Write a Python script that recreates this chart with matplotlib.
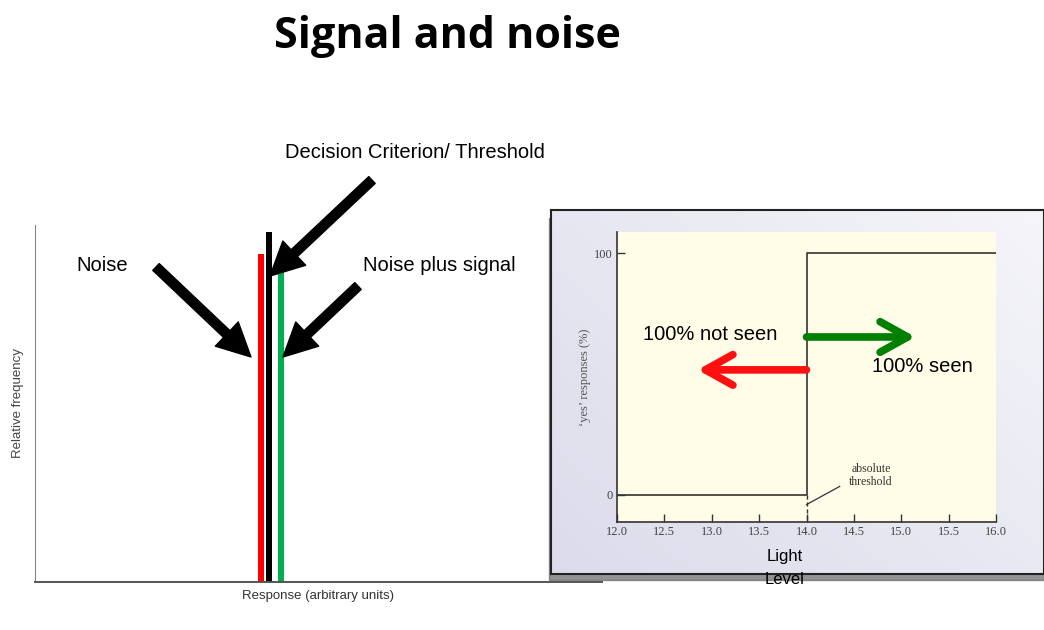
import numpy as np
import matplotlib
matplotlib.use('Agg')
from matplotlib import pyplot as plt
from matplotlib.patches import Rectangle

W, H = 1044, 630

# left panel: three response lines
resp_x = [39.8, 41.3, 43.4]
resp_h = [92, 98, 92]
resp_c = ['#ff0000', '#000000', '#00b050']

# right panel: step function of 'yes' responses
light = [12.0, 14.0, 14.0, 16.0]
yes_pct = [0, 0, 100, 100]
x_ticks = [12.0, 12.5, 13.0, 13.5, 14.0, 14.5, 15.0, 15.5, 16.0]
y_ticks = [0, 100]


def px(x, y):
    return x / W, 1 - y / H


def rect(x0, y0, x1, y1):
    return [x0 / W, 1 - y1 / H, (x1 - x0) / W, (y1 - y0) / H]


sans = 'Liberation Sans'
serif = 'Liberation Serif'

fig = plt.figure(figsize=(W / 100, H / 100), dpi=100)
fig.patch.set_facecolor('white')

fig.text(*px(447, 36), 'Signal and noise', family='Open Sans', weight='bold',
         fontsize=31, ha='center', va='center')

# ---- left panel
ax = fig.add_axes(rect(35, 225, 602, 582))
ax.set_facecolor('none')
ax.bar(resp_x, resp_h, width=1.1, color=resp_c, align='center')
ax.set_xlim(0, 100)
ax.set_ylim(0, 100)
ax.set_xticks([])
ax.set_yticks([])
for s in ['top', 'right']:
    ax.spines[s].set_visible(False)
ax.spines['left'].set_color('#888888')
ax.spines['bottom'].set_color('#555555')
ax.spines['bottom'].set_linewidth(1.4)
ax.set_ylabel('Relative frequency', family=sans, fontsize=9.5, color='#444444', labelpad=8)
ax.set_xlabel('Response (arbitrary units)', family=sans, fontsize=9.5, color='#333333', labelpad=6)

fig.text(*px(102, 265), 'Noise', family=sans, fontsize=14.5, ha='center', va='center')
fig.text(*px(439, 265), 'Noise plus signal', family=sans, fontsize=14.5, ha='center', va='center')
fig.text(*px(415, 152), 'Decision Criterion/ Threshold', family=sans, fontsize=14.5,
         ha='center', va='center')

big = dict(arrowstyle='simple,head_length=1.0,head_width=1.0,tail_width=0.28',
           color='black', mutation_scale=24, shrinkA=0, shrinkB=0)
for tail, tip in [((372, 180), (270, 276)), ((156, 267), (251, 357)), ((358, 286), (283, 357))]:
    ax.annotate('', xy=px(*tip), xytext=px(*tail), xycoords='figure fraction',
                textcoords='figure fraction', arrowprops=big)

# ---- right panel box
shadow = Rectangle((549 / W, 1 - 580 / H), 495 / W, 362 / H, transform=fig.transFigure,
                   color='#666666', alpha=0.7, zorder=-1)
fig.add_artist(shadow)
box = fig.add_axes(rect(551, 210, 1044, 574))
gx = np.linspace(0, 1, 200)
gy = np.linspace(0, 1, 200)
GX, GY = np.meshgrid(gx, gy)
t = np.clip(0.55 * GX + 0.45 * (1 - GY), 0, 1)
c0 = np.array([0.86, 0.86, 0.92])
c1 = np.array([0.96, 0.96, 0.98])
img = c0[None, None, :] + (c1 - c0)[None, None, :] * t[:, :, None]
box.imshow(img, aspect='auto', extent=[0, 1, 0, 1], origin='upper')
box.set_xticks([])
box.set_yticks([])
for s in box.spines.values():
    s.set_color('#222222')
    s.set_linewidth(1.5)

# inner plot
ax2 = fig.add_axes(rect(617, 232, 996, 522))
ax2.set_facecolor('#fffde8')
ax2.plot(light, yes_pct, color='#333333', lw=1.2)
ax2.plot([14.0, 14.0], [0, -11], color='#333333', lw=1.0, ls=(0, (3, 2)))
ax2.plot([14.0, 14.35], [-4, 3.5], color='#333333', lw=0.9)
ax2.text(14.68, 8, 'absolute\nthreshold', family=serif, fontsize=8.5, color='#333333',
         ha='center', va='center', linespacing=1.1)
ax2.set_xlim(12, 16)
ax2.set_ylim(-11.2, 108.7)
ax2.set_xticks(x_ticks)
ax2.set_xticklabels(['%.1f' % v for v in x_ticks])
ax2.set_yticks(y_ticks)
ax2.tick_params(direction='in', length=6, width=1.0, color='#333333', labelcolor='#444444',
                labelsize=9, pad=3)
for lab in ax2.get_xticklabels() + ax2.get_yticklabels():
    lab.set_family(serif)
for s in ['top', 'right']:
    ax2.spines[s].set_visible(False)
for s in ['left', 'bottom']:
    ax2.spines[s].set_color('#333333')
    ax2.spines[s].set_linewidth(1.2)
ax2.set_ylabel("\u2018yes\u2019 responses (%)", family=serif, fontsize=9, color='#555555',
               labelpad=2)

chev = dict(arrowstyle='->,head_length=0.9,head_width=0.5', lw=5.5, mutation_scale=22,
            capstyle='round', joinstyle='round', shrinkA=0, shrinkB=0)
ax2.annotate('', xy=(15.15, 65.3), xytext=(14.0, 65.3),
             arrowprops=dict(color='#008000', **chev))
ax2.annotate('', xy=(12.85, 51.7), xytext=(14.0, 51.7),
             arrowprops=dict(color='#ff1010', **chev))
fig.text(*px(710, 334), '100% not seen', family=sans, fontsize=14.5, ha='center', va='center')
fig.text(*px(922, 367), '100% seen', family=sans, fontsize=14.5, ha='center', va='center')

fig.text(*px(785, 557), 'Light', family=sans, fontsize=12, ha='center', va='center')
fig.text(*px(785, 579), 'Level', family=sans, fontsize=12, ha='center', va='center')

fig.savefig('out.png', dpi=100)
